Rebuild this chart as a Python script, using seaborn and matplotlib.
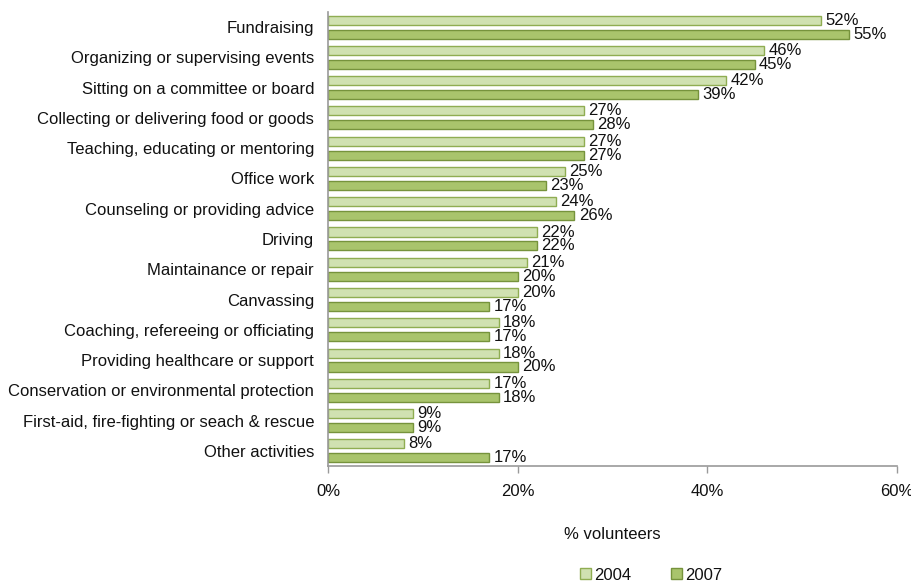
import matplotlib
matplotlib.use("Agg")
import matplotlib.pyplot as plt
import seaborn as sns
import pandas as pd
from matplotlib.patches import Patch

activities = [
    "Fundraising",
    "Organizing or supervising events",
    "Sitting on a committee or board",
    "Collecting or delivering food or goods",
    "Teaching, educating or mentoring",
    "Office work",
    "Counseling or providing advice",
    "Driving",
    "Maintainance or repair",
    "Canvassing",
    "Coaching, refereeing or officiating",
    "Providing healthcare or support",
    "Conservation or environmental protection",
    "First-aid, fire-fighting or seach & rescue",
    "Other activities",
]
years = ["2004", "2007"]
pct_2004 = [52, 46, 42, 27, 27, 25, 24, 22, 21, 20, 18, 18, 17, 9, 8]
pct_2007 = [55, 45, 39, 28, 27, 23, 26, 22, 20, 17, 17, 20, 18, 9, 17]
x_ticks = [0, 20, 40, 60]
x_tick_labels = ["0%", "20%", "40%", "60%"]

df = pd.DataFrame({
    "activity": activities * 2,
    "year": [years[0]] * len(activities) + [years[1]] * len(activities),
    "pct": pct_2004 + pct_2007,
})

fills = {"2004": "#d0e1b1", "2007": "#a9c46c"}
edges = {"2004": "#8fad52", "2007": "#76933c"}
text_color = "#111111"
fs = 12

sns.set_theme(style="white")
plt.rcParams["font.family"] = ["Liberation Sans", "DejaVu Sans"]

fig = plt.figure(figsize=(9.12, 5.85), dpi=100)
ax = fig.add_axes([0.3596, 0.2035, 0.6238, 0.7760])

sns.barplot(data=df, x="pct", y="activity", hue="year", hue_order=years,
            order=activities, palette=fills, saturation=1, orient="h",
            width=0.92, gap=0.35, legend=False, ax=ax, errorbar=None)

for container, yr in zip(ax.containers, years):
    for bar in container:
        bar.set_edgecolor(edges[yr])
        bar.set_linewidth(1.0)
    ax.bar_label(container, labels=[f"{v:.0f}%" for v in container.datavalues],
                 padding=3, fontsize=fs, color=text_color)

ax.set_xlim(0, 60)
ax.set_ylim(len(activities) - 0.5, -0.5)
ax.set_xticks(x_ticks)
ax.set_xticklabels(x_tick_labels)
ax.tick_params(axis="x", length=5, width=1, color="#999999", direction="out",
               pad=8, bottom=True, labelsize=fs, labelcolor=text_color)
ax.tick_params(axis="y", length=0, pad=10, labelsize=fs, labelcolor=text_color)
ax.set_ylabel("")
ax.set_xlabel("% volunteers", fontsize=fs, labelpad=20, color=text_color)

for side in ["top", "right"]:
    ax.spines[side].set_visible(False)
for side in ["left", "bottom"]:
    ax.spines[side].set_color("#999999")
    ax.spines[side].set_linewidth(1.2)
ax.grid(False)

handles = [Patch(facecolor=fills[y], edgecolor=edges[y], label=y) for y in years]
leg = fig.legend(handles=handles, loc="center", bbox_to_anchor=(0.714, 0.017),
                 ncol=2, frameon=False, fontsize=fs, handlelength=0.65,
                 handleheight=0.65, handletextpad=0.2, columnspacing=2.4)
for t in leg.get_texts():
    t.set_color(text_color)

fig.savefig("out.png", dpi=100, facecolor="white")
